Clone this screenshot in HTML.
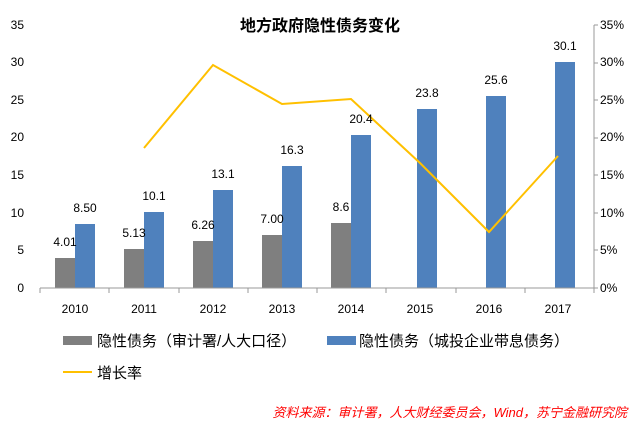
<!DOCTYPE html>
<html><head><meta charset="utf-8"><style>
body{margin:0;background:#fff;}
svg text{font-family:"Liberation Sans","Noto Sans CJK SC",sans-serif;}
</style></head><body>
<svg width="640" height="426" viewBox="0 0 640 426" xmlns="http://www.w3.org/2000/svg">
<rect width="640" height="426" fill="#fff"/>
<text x="320" y="31" text-anchor="middle" font-size="16" font-weight="bold" fill="#000">地方政府隐性债务变化</text>
<g font-size="12" fill="#000" text-anchor="end">
<text x="24" y="292">0</text><text x="24" y="254">5</text><text x="24" y="217">10</text><text x="24" y="179">15</text><text x="24" y="141">20</text><text x="24" y="104">25</text><text x="24" y="66">30</text><text x="24" y="29">35</text>
</g>
<g font-size="12" fill="#000" text-anchor="start">
<text x="600" y="292">0%</text><text x="600" y="254">5%</text><text x="600" y="217">10%</text><text x="600" y="179">15%</text><text x="600" y="141">20%</text><text x="600" y="104">25%</text><text x="600" y="66">30%</text><text x="600" y="29">35%</text>
</g>
<line x1="594" y1="25" x2="594" y2="288" stroke="#999"/>
<g stroke="#999"><line x1="594" y1="25" x2="598" y2="25"/><line x1="594" y1="63" x2="598" y2="63"/><line x1="594" y1="100" x2="598" y2="100"/><line x1="594" y1="138" x2="598" y2="138"/><line x1="594" y1="175" x2="598" y2="175"/><line x1="594" y1="213" x2="598" y2="213"/><line x1="594" y1="250" x2="598" y2="250"/><line x1="594" y1="288" x2="598" y2="288"/></g>
<g fill="#7f7f7f">
<rect x="55" y="258" width="20" height="30"/>
<rect x="124" y="249" width="20" height="39"/>
<rect x="193" y="241" width="20" height="47"/>
<rect x="262" y="235" width="20" height="53"/>
<rect x="331" y="223" width="20" height="65"/>
</g>
<g fill="#4f81bd">
<rect x="75" y="224" width="20" height="64"/>
<rect x="144" y="212" width="20" height="76"/>
<rect x="213" y="190" width="20" height="98"/>
<rect x="282" y="166" width="20" height="122"/>
<rect x="351" y="135" width="20" height="153"/>
<rect x="417" y="109" width="20" height="179"/>
<rect x="486" y="96" width="20" height="192"/>
<rect x="555" y="62" width="20" height="226"/>
</g>
<line x1="40" y1="288" x2="594" y2="288" stroke="#999"/>
<g stroke="#999"><line x1="40" y1="288" x2="40" y2="293"/><line x1="109" y1="288" x2="109" y2="293"/><line x1="179" y1="288" x2="179" y2="293"/><line x1="248" y1="288" x2="248" y2="293"/><line x1="317" y1="288" x2="317" y2="293"/><line x1="386" y1="288" x2="386" y2="293"/><line x1="456" y1="288" x2="456" y2="293"/><line x1="525" y1="288" x2="525" y2="293"/><line x1="594" y1="288" x2="594" y2="293"/></g>
<polyline points="144,148 213,65 282,104 351,99 420,163 489,232 558,156" fill="none" stroke="#ffc000" stroke-width="2"/>
<g font-size="12" fill="#000" text-anchor="middle">
<text x="65" y="246">4.01</text><text x="134" y="237">5.13</text><text x="203" y="229">6.26</text><text x="272" y="223">7.00</text><text x="341" y="211">8.6</text>
<text x="85" y="212">8.50</text><text x="154" y="200">10.1</text><text x="223" y="178">13.1</text><text x="292" y="154">16.3</text><text x="361" y="123">20.4</text><text x="427" y="97">23.8</text><text x="496" y="84">25.6</text><text x="565" y="50">30.1</text>
</g>
<g font-size="12" fill="#000" text-anchor="middle">
<text x="75" y="313">2010</text><text x="144" y="313">2011</text><text x="213" y="313">2012</text><text x="282" y="313">2013</text><text x="351" y="313">2014</text><text x="420" y="313">2015</text><text x="489" y="313">2016</text><text x="558" y="313">2017</text>
</g>
<rect x="63" y="336" width="29" height="9" fill="#7f7f7f"/>
<text x="97" y="346" font-size="15" fill="#000">隐性债务（审计署/人大口径）</text>
<rect x="327" y="336" width="29" height="9" fill="#4f81bd"/>
<text x="359" y="346" font-size="15" fill="#000">隐性债务（城投企业带息债务）</text>
<line x1="63" y1="372" x2="92" y2="372" stroke="#ffc000" stroke-width="2"/>
<text x="97" y="378" font-size="15" fill="#000">增长率</text>
<text x="627" y="417" text-anchor="end" font-size="13" font-style="italic" fill="#ff0000">资料来源：审计署，人大财经委员会，Wind，苏宁金融研究院</text>
</svg>
</body></html>
